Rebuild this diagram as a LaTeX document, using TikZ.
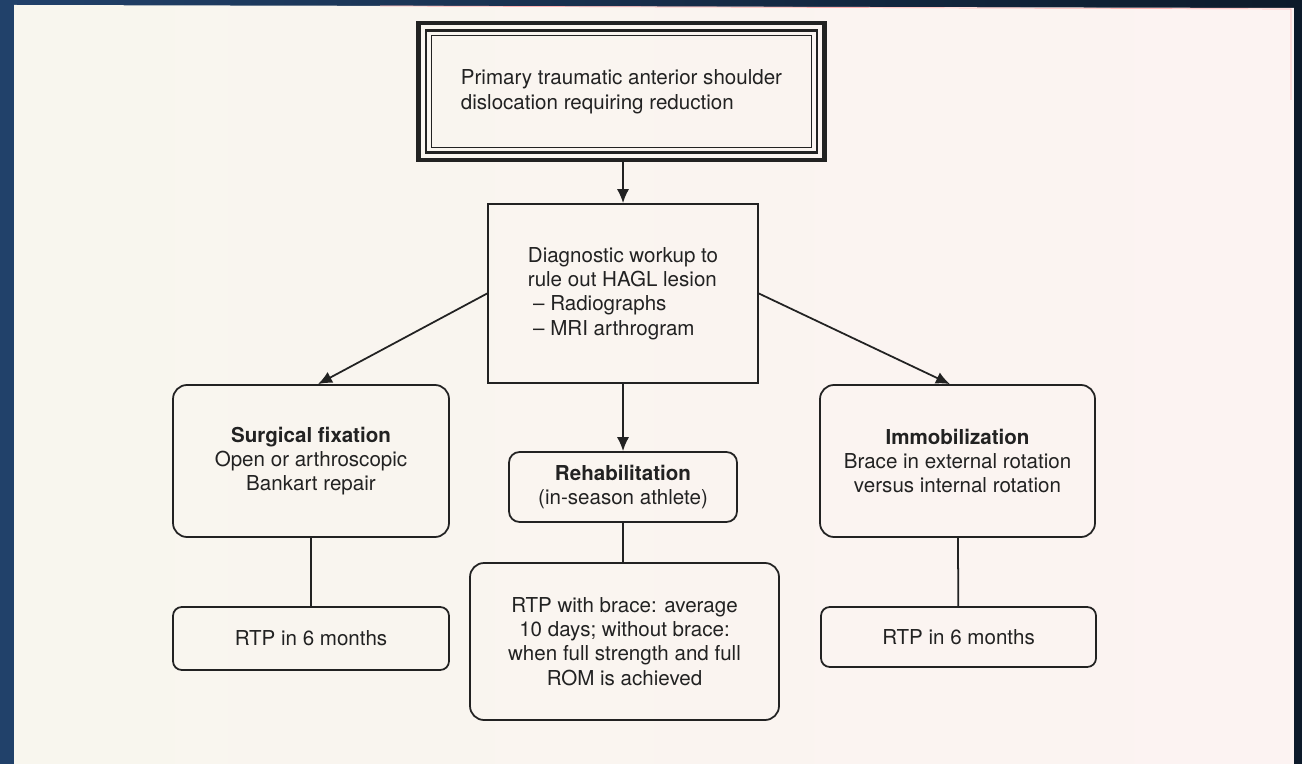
\documentclass[tikz,border=0pt]{standalone}
\usepackage{fontspec}
\setmainfont{TeX Gyre Heros}
\usetikzlibrary{arrows.meta}

\definecolor{inkgray}{HTML}{222222}
\definecolor{deskblue}{HTML}{21416A}
\definecolor{desknavy}{HTML}{0D1A2A}
\definecolor{papercream}{HTML}{F8F6EE}
\definecolor{paperpink}{HTML}{FCF3F2}

\tikzset{
  box/.style={draw=inkgray, line width=1pt, text=inkgray, align=center,
    inner sep=0pt, font=\fontsize{11.7}{13.8}\selectfont},
  rbox/.style={box, rounded corners=8pt},
  arr/.style={draw=inkgray, line width=1pt, -{Latex[length=8pt,width=7pt]}},
  link/.style={draw=inkgray, line width=1pt}
}

\begin{document}
\begin{tikzpicture}
	% desk and page
	\shade[left color=deskblue, right color=desknavy] (0,0) rectangle (26.04,-15.28);
	\shade[left color=papercream, right color=paperpink] (0.28,-0.1) -- (25.88,-0.16) -- (25.88,-15.28) -- (0.28,-15.28) -- cycle;
	\draw[red!30, line width=0.4pt] (7.6,-0.12) -- (25.82,-0.18) -- (25.82,-2);
	% start box, triple frame
	\node[box, line width=2.6pt, minimum width=8.11cm, minimum height=2.74cm, align=left] (start) at (12.43,-1.83)
		{\raisebox{-4pt}{\shortstack[l]{Primary traumatic anterior shoulder\\dislocation requiring reduction}}};
	\draw[inkgray, line width=1.5pt] ([shift={(5.5pt,-5.5pt)}]start.north west) rectangle ([shift={(-5.5pt,5.5pt)}]start.south east);
	\draw[inkgray, line width=0.7pt] ([shift={(8.5pt,-8.5pt)}]start.north west) rectangle ([shift={(-8.5pt,8.5pt)}]start.south east);
	% workup
	\node[box, minimum width=5.4cm, minimum height=3.58cm, align=left] (diag) at (12.46,-5.87)
		{Diagnostic workup to\\rule out HAGL lesion\\\hspace{3pt}-- Radiographs\\\hspace{3pt}-- MRI arthrogram};
	% three options
	\node[rbox, minimum width=5.52cm, minimum height=3.04cm] (surg) at (6.22,-9.22)
		{\textbf{Surgical fixation}\\Open or arthroscopic\\Bankart repair};
	\node[rbox, rounded corners=6pt, minimum width=4.56cm, minimum height=1.4cm] (rehab) at (12.46,-9.74)
		{\textbf{Rehabilitation}\\(in-season athlete)};
	\node[rbox, minimum width=5.5cm, minimum height=3.04cm] (immob) at (19.15,-9.22)
		{\textbf{Immobilization}\\Brace in external rotation\\versus internal rotation};
	% return to play
	\node[rbox, rounded corners=5pt, minimum width=5.52cm, minimum height=1.26cm] (rtpL) at (6.22,-12.77) {RTP in 6 months};
	\node[rbox, minimum width=6.18cm, minimum height=3.14cm] (rtpM) at (12.49,-12.83)
		{RTP with brace: average\\10 days; without brace:\\when full strength and full\\ROM is achieved};
	\node[rbox, rounded corners=5pt, minimum width=5.5cm, minimum height=1.2cm] (rtpR) at (19.17,-12.74) {RTP in 6 months};
	% connectors
	\draw[arr] (start.south -| diag.north) -- (diag.north);
	\draw[arr] (diag.south) -- (rehab.north);
	\draw[arr] (diag.west) -- ([xshift=0.14cm]surg.north);
	\draw[arr] (diag.east) -- ([xshift=-0.15cm]immob.north);
	\draw[link] (surg) -- (rtpL);
	\draw[link] (rehab.south) -- (rehab.south |- rtpM.north);
	\draw[link] (immob) -- (rtpR);
\end{tikzpicture}
\end{document}
